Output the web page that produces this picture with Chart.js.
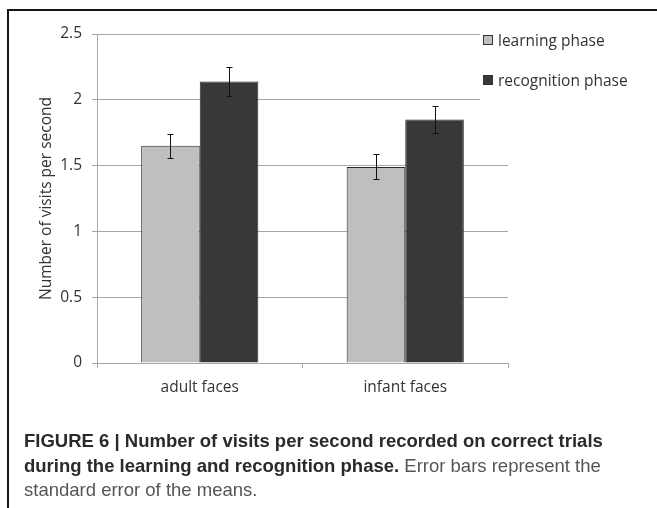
<!DOCTYPE html>
<html>
<head>
<meta charset="utf-8">
<script src="https://cdn.jsdelivr.net/npm/chart.js@4.4.1/dist/chart.umd.min.js"></script>
<style>
  html, body { margin: 0; padding: 0; background: #fff; }
  body { width: 657px; height: 508px; position: relative; overflow: hidden; }
  #frame { position: absolute; left: 7px; top: 9px; width: 700px; height: 520px; border-top: 2px solid #151515; border-left: 2px solid #151515; }
  #chartWrap { position: absolute; left: 0; top: 0; width: 657px; height: 404px; }
  #legend { position: absolute; left: 480px; top: 23px; width: 170px; height: 80px; background: #fff; font-family: 'Open Sans', sans-serif; font-size: 15.5px; color: #333; }
  .legend-item { position: absolute; left: 3px; height: 20px; display: flex; align-items: center; white-space: nowrap; }
  .swatch { width: 8px; height: 8px; border: 1px solid #333; margin-right: 5px; }
  #caption { position: absolute; left: 24px; top: 429px; width: 620px; font-family: 'Liberation Sans', Arial, sans-serif; font-size: 18.5px; line-height: 24.5px; color: #555; }
  #caption b { color: #2a2a2a; }
</style>
</head>
<body>
<div id="chartWrap"><canvas id="chart" width="657" height="404"></canvas></div>
<div id="legend"></div>
<div id="frame"></div>
<div id="caption"><b>FIGURE 6 | Number of visits per second recorded on correct trials during the learning and recognition phase.</b> Error bars represent the standard error of the means.</div>
<script>
const categories = ['adult faces', 'infant faces'];
const seriesLabels = ['learning phase', 'recognition phase'];
const seriesColors = ['#bfbfbf', '#3a3836'];
const learningValues = [1.65, 1.49];
const recognitionValues = [2.14, 1.85];
const learningErrors = [0.09, 0.095];
const recognitionErrors = [0.11, 0.10];
const yTicks = [0, 0.5, 1, 1.5, 2, 2.5];
const yTickLabels = ['0', '0.5', '1', '1.5', '2', '2.5'];

const gridColor = '#a8a8a8';
const textColor = '#333';
const axisFont = { family: 'Open Sans', size: 15.5 };

const errorBarPlugin = {
  id: 'errorBars',
  afterDatasetsDraw(chart) {
    const ctx = chart.ctx;
    const y = chart.scales.y;
    chart.data.datasets.forEach((ds, i) => {
      const meta = chart.getDatasetMeta(i);
      meta.data.forEach((bar, j) => {
        const v = ds.data[j];
        const e = ds.errors[j];
        const top = Math.round(y.getPixelForValue(v + e)) + 0.5;
        const bottom = Math.round(y.getPixelForValue(v - e)) + 0.5;
        const x = Math.round(bar.x) + 0.5;
        ctx.save();
        ctx.strokeStyle = '#111';
        ctx.lineWidth = 1;
        ctx.beginPath();
        ctx.moveTo(x, top); ctx.lineTo(x, bottom);
        ctx.moveTo(x - 3, top); ctx.lineTo(x + 3, top);
        ctx.moveTo(x - 3, bottom); ctx.lineTo(x + 3, bottom);
        ctx.stroke();
        ctx.restore();
      });
    });
  }
};

function renderLegend() {
  const legend = document.getElementById('legend');
  seriesLabels.forEach((label, i) => {
    const item = document.createElement('div');
    item.className = 'legend-item';
    item.style.top = (7 + i * 40) + 'px';
    item.innerHTML = `<span class="swatch" style="background:${seriesColors[i]}"></span><span>${label}</span>`;
    legend.appendChild(item);
  });
}

function renderChart() {
  const ctx = document.getElementById('chart').getContext('2d');
  new Chart(ctx, {
    type: 'bar',
    data: {
      labels: categories,
      datasets: [
        { label: seriesLabels[0], data: learningValues, errors: learningErrors, backgroundColor: seriesColors[0] },
        { label: seriesLabels[1], data: recognitionValues, errors: recognitionErrors, backgroundColor: seriesColors[1] }
      ]
    },
    options: {
      responsive: false,
      animation: false,
      devicePixelRatio: 1,
      layout: { padding: { top: 34, right: 149, bottom: 0, left: 0 } },
      datasets: {
        bar: { categoryPercentage: 0.57, barPercentage: 1.0, borderWidth: 1, borderColor: '#2a2a2a' }
      },
      plugins: {
        legend: { display: false },
        tooltip: { enabled: false }
      },
      scales: {
        x: {
          grid: { drawOnChartArea: false, drawTicks: true, tickLength: 5, color: gridColor, offset: true },
          border: { color: gridColor },
          ticks: { font: axisFont, color: textColor, padding: 10 },
          afterFit: s => { s.height = 41; }
        },
        y: {
          min: 0,
          max: 2.5,
          afterBuildTicks: s => { s.ticks = yTicks.map(v => ({ value: v })); },
          grid: { color: gridColor, tickLength: 5 },
          border: { color: gridColor },
          ticks: {
            font: axisFont,
            color: textColor,
            padding: 10,
            callback: v => yTickLabels[yTicks.indexOf(v)]
          },
          title: {
            display: true,
            text: 'Number of visits per second',
            font: axisFont,
            color: textColor,
            padding: { top: 37.5, bottom: 0 }
          },
          afterFit: s => { s.width = 97; }
        }
      }
    },
    plugins: [errorBarPlugin]
  });
}

window.addEventListener('DOMContentLoaded', () => {
  renderLegend();
  renderChart();
});
</script>
</body>
</html>
